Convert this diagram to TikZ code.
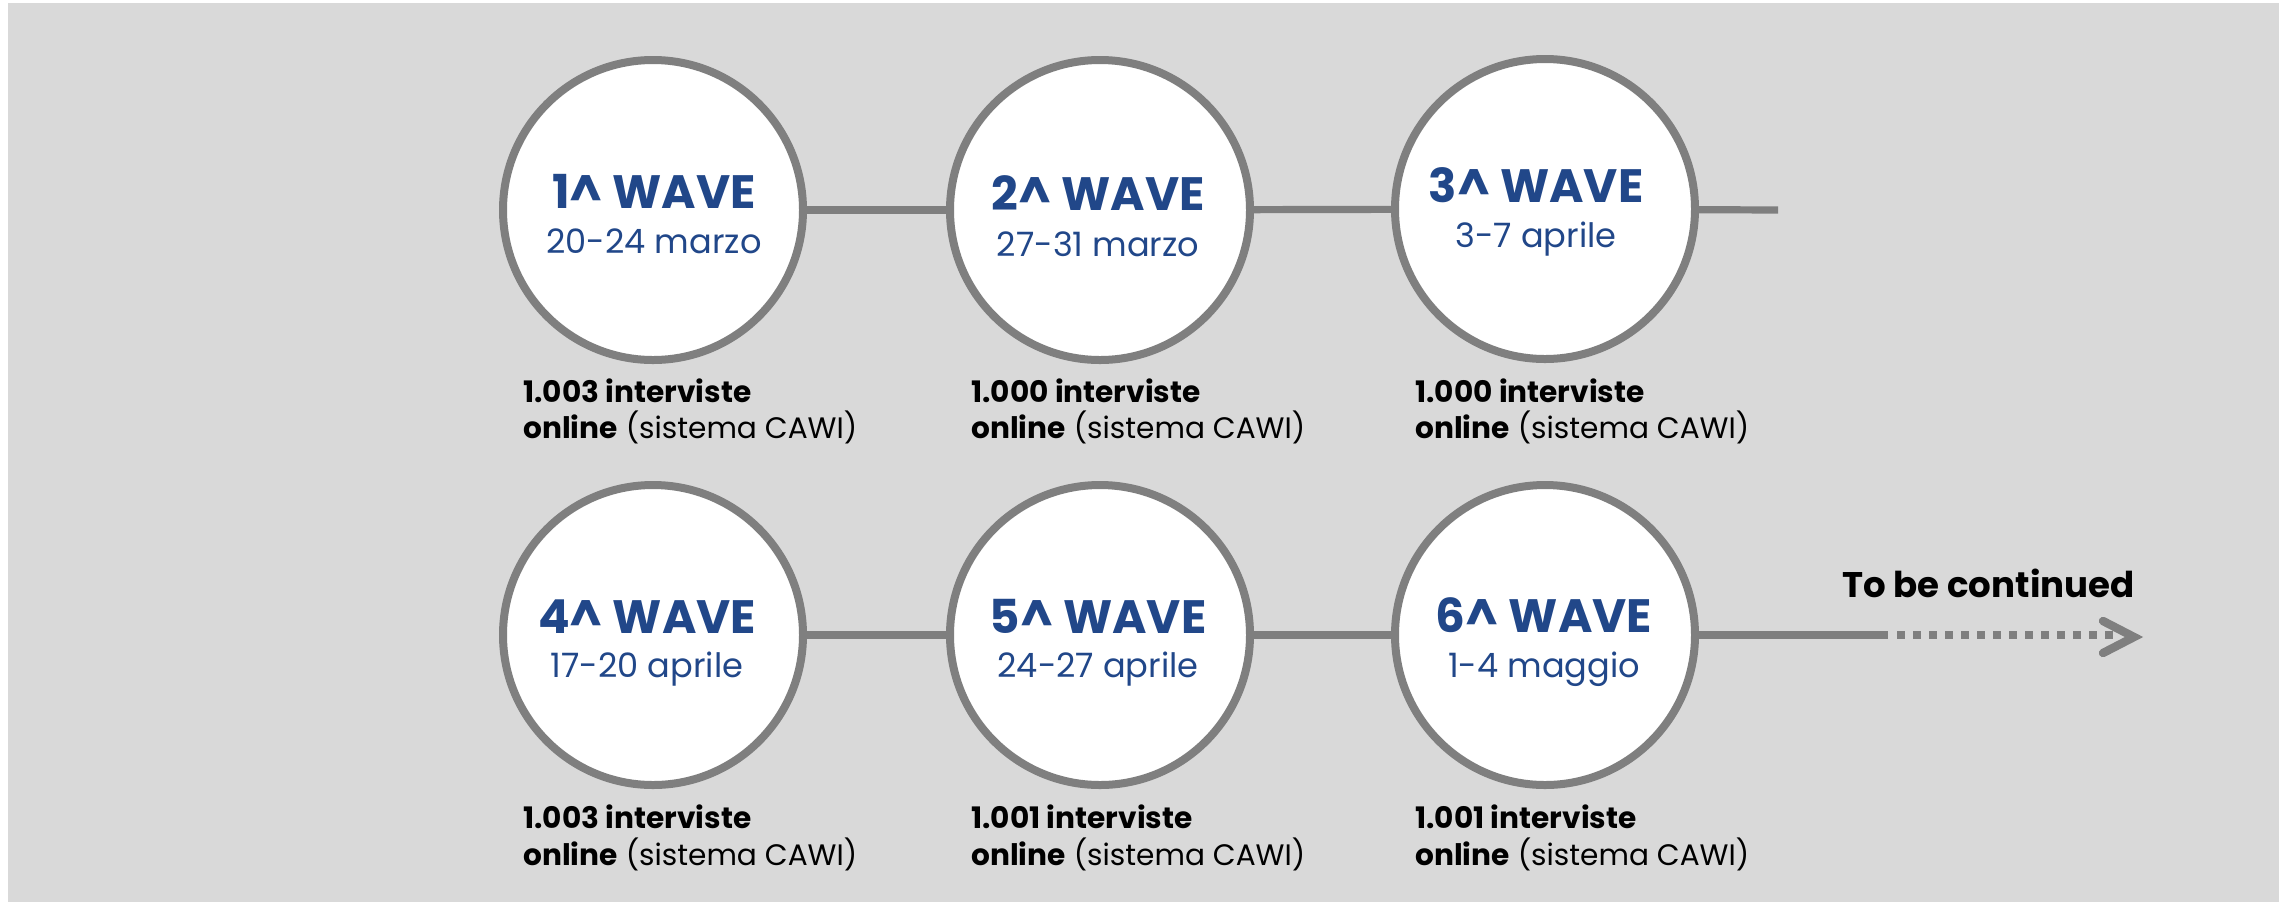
\documentclass[tikz,border=0pt]{standalone}
\usepackage{fontspec}
\setmainfont{Poppins}
\definecolor{bgc}{HTML}{D9D9D9}
\definecolor{lnc}{HTML}{7F7F7F}
\definecolor{wbc}{RGB}{33,71,137}
\begin{document}
\begin{tikzpicture}[x=0.5pt,y=-0.5pt,
  wave/.style={circle,draw=lnc,line width=4pt,fill=white,minimum size=150pt,inner sep=0pt},
  link/.style={draw=lnc,line width=3.6pt},
  ttl/.style={font=\bfseries\fontsize{23.4}{23.4}\selectfont,text=wbc,anchor=base,inner sep=0pt},
  dt/.style={font=\fontsize{16.8}{16.8}\selectfont,text=wbc,anchor=base,inner sep=0pt},
  info/.style={font=\fontsize{14.8}{14.8}\selectfont,anchor=base west,inner sep=0pt},
  cont/.style={font=\bfseries\fontsize{17.8}{17.8}\selectfont,anchor=base east,inner sep=0pt}
]
\useasboundingbox (0,0) rectangle (2282,902);
\fill[bgc] (8,3) rectangle (2279,902);

% circles
\node[wave] (c1) at (653,210) {};
\node[wave] (c2) at (1100,210) {};
\node[wave] (c3) at (1545,209) {};
\node[wave] (c4) at (653,635) {};
\node[wave] (c5) at (1100,635) {};
\node[wave] (c6) at (1545,635) {};

% connectors
\coordinate (e1) at (1778,210);
\coordinate (s1) at (1888,635);
\coordinate (s2) at (1897,635);
\coordinate (s3) at (2113,635);
\coordinate (a1) at (2103,621);
\coordinate (a2) at (2134,637);
\coordinate (a3) at (2103,653);
\draw[link] (c1) -- (c2);
\draw[link] (c2) -- (c3);
\draw[link] (c3) -- (e1);
\draw[link] (c4) -- (c5);
\draw[link] (c5) -- (c6);
\draw[link] (c6) -- (s1);
\draw[draw=lnc,line width=4pt,dash pattern=on 4pt off 4pt] (s2) -- (s3);
\draw[draw=lnc,line width=4.2pt,line cap=round,line join=miter] (a1) -- (a2) -- (a3);

% titles and dates
\node[ttl] (t1) at (654,208) {1\textasciicircum{} WAVE};
\node[dt]  (d1) at (654,253) {20-24 marzo};
\node[ttl] (t2) at (1098,210) {2\textasciicircum{} WAVE};
\node[dt]  (d2) at (1098,256) {27-31 marzo};
\node[ttl] (t3) at (1536,202) {3\textasciicircum{} WAVE};
\node[dt]  (d3) at (1536,247) {3-7 aprile};
\node[ttl] (t4) at (647,633) {4\textasciicircum{} WAVE};
\node[dt]  (d4) at (647,677) {17-20 aprile};
\node[ttl] (t5) at (1098,633) {5\textasciicircum{} WAVE};
\node[dt]  (d5) at (1098,677) {24-27 aprile};
\node[ttl] (t6) at (1544,632) {6\textasciicircum{} WAVE};
\node[dt]  (d6) at (1544,677) {1-4 maggio};

% info texts
\node[info] (i1a) at (523,402) {\textbf{1.003 interviste}};
\node[info] (i1b) at (523,438) {\textbf{online} (sistema CAWI)};
\node[info] (i2a) at (971,402) {\textbf{1.000 interviste}};
\node[info] (i2b) at (971,438) {\textbf{online} (sistema CAWI)};
\node[info] (i3a) at (1415,402) {\textbf{1.000 interviste}};
\node[info] (i3b) at (1415,438) {\textbf{online} (sistema CAWI)};
\node[info] (i4a) at (523,828) {\textbf{1.003 interviste}};
\node[info] (i4b) at (523,865) {\textbf{online} (sistema CAWI)};
\node[info] (i5a) at (971,828) {\textbf{1.001 interviste}};
\node[info] (i5b) at (971,865) {\textbf{online} (sistema CAWI)};
\node[info] (i6a) at (1415,828) {\textbf{1.001 interviste}};
\node[info] (i6b) at (1415,865) {\textbf{online} (sistema CAWI)};

\node[cont] (tc) at (2135,597) {To be continued};
\end{tikzpicture}
\end{document}
